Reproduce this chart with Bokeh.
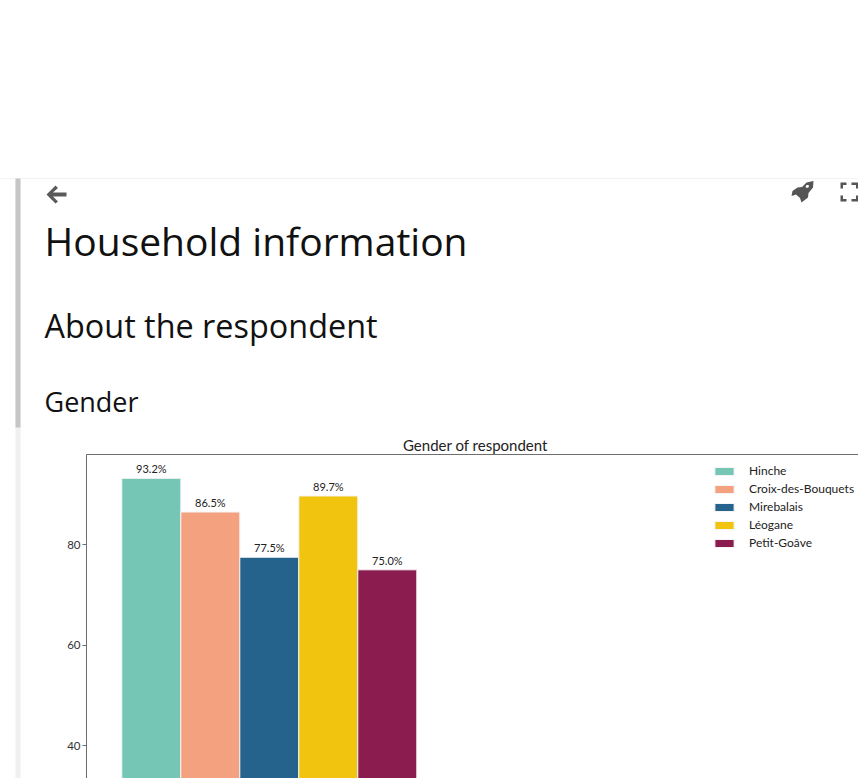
from bokeh.plotting import figure
from bokeh.embed import file_html
from bokeh.resources import INLINE
from bokeh.models import (Range1d, FixedTicker, LinearAxis, Label, BoxAnnotation,
                          PolyAnnotation, Legend, LegendItem, ColumnDataSource)
from bokeh.core.properties import value

towns = ["Hinche", "Croix-des-Bouquets", "Mirebalais", "Léogane", "Petit-Goâve"]
shares = [93.2, 86.5, 77.5, 89.7, 75.0]
colors = ["#76C6B6", "#F4A180", "#25628C", "#F1C40F", "#8A1C4F"]
positions = [0, 1, 2, 3, 4]
y_ticks = [40, 60, 80]
headings = ["Household information", "About the respondent", "Gender"]
chart_title = "Gender of respondent"

W, H = 858, 778
CHART_FONT = "Lato"
HEAD_FONT = "Open Sans"

# scale calibration
PX_PER_BAR = 59.0
X0_PX = 150.8
PX_PER_UNIT = 5.025
Y80_PX = 544.2
AX_LEFT_PX = 86
AX_TOP_PX = 454

def xv(px):
    return (px - X0_PX) / PX_PER_BAR

def yv(py):
    return 80 + (Y80_PX - py) / PX_PER_UNIT

def sy(y):
    return H - y

p = figure(width=W, height=H, output_backend="svg", toolbar_location=None,
           x_range=Range1d(xv(0), xv(W)), y_range=Range1d(yv(H), yv(0)),
           x_axis_location=None, y_axis_location=None, min_border=0, tools="")
p.grid.visible = False
p.outline_line_color = None
p.background_fill_color = "white"
p.border_fill_color = "white"

ax = LinearAxis(fixed_location=xv(AX_LEFT_PX), bounds=(yv(H), yv(AX_TOP_PX)),
                ticker=FixedTicker(ticks=y_ticks))
ax.major_tick_in = 0
ax.major_tick_out = 4
ax.minor_tick_line_color = None
ax.axis_line_color = "#6e6e6e"
ax.major_tick_line_color = "#6e6e6e"
ax.major_label_text_font = CHART_FONT
ax.major_label_text_font_size = "11.5px"
ax.major_label_text_color = "#333333"
ax.major_label_standoff = 2
p.add_layout(ax, "left")

top = LinearAxis(fixed_location=yv(AX_TOP_PX), bounds=(xv(AX_LEFT_PX), xv(W)),
                 ticker=FixedTicker(ticks=[]), axis_line_color="#6e6e6e",
                 major_tick_line_color=None, minor_tick_line_color=None,
                 major_label_text_font_size="0px")
p.add_layout(top, "above")

items = []
for x, v, c, t in zip(positions, shares, colors, towns):
    r = p.vbar(x=[x], top=[v], bottom=0, width=1.0, fill_color=c,
               line_color="#f4f4f4", line_width=1)
    items.append(LegendItem(label=t, renderers=[r]))

src = ColumnDataSource(dict(x=positions, y=shares, t=[f"{v:.1f}%" for v in shares]))
p.text(x="x", y="y", text="t", source=src, text_align="center", text_baseline="bottom",
       y_offset=-3, text_font=value(CHART_FONT), text_font_size="11px", text_color="#222222")

leg = Legend(items=items, location=(712, 227), orientation="vertical", padding=0, margin=0,
             spacing=1, glyph_width=24, glyph_height=10, label_height=17, label_standoff=13,
             label_text_font=CHART_FONT, label_text_font_size="12px", label_text_color="#222222",
             border_line_color=None, background_fill_alpha=0)
p.add_layout(leg)

def box(l, r, t, b, color):
    p.add_layout(BoxAnnotation(left=l, right=r, top=sy(t), bottom=sy(b),
                               left_units="screen", right_units="screen",
                               top_units="screen", bottom_units="screen",
                               fill_color=color, fill_alpha=1, line_color=None, level="underlay"))

def poly(pts, color):
    p.add_layout(PolyAnnotation(xs=[a for a, _ in pts], ys=[sy(b) for _, b in pts],
                                xs_units="screen", ys_units="screen",
                                fill_color=color, fill_alpha=1, line_color=None))

box(0, 858, 177.5, 178.5, "#f3f3f3")
box(15, 20, 178, 778, "#f0f0f0")
box(15, 20, 178, 427, "#c6c6c6")

# back arrow
poly([(46, 194), (55, 185), (57.5, 187.5), (52.5, 192), (66, 192), (66, 196),
      (52.5, 196), (57.5, 201), (55, 203)], "#5a5a5a")
# rocket
poly([(813, 180.5), (812.5, 187), (808, 192.5), (807.5, 197), (801, 202), (799.5, 197.5),
      (795.5, 194), (791, 195.5), (792, 190.5), (797, 187), (801.5, 186.5), (806, 182)], "#555555")
poly([(806, 184.5), (808, 184.5), (808.5, 186.5), (806.5, 187.5), (805, 186.5)], "#ffffff")
# fullscreen corners
G = "#555555"
poly([(840, 182), (846, 182), (846, 184.5), (842.5, 184.5), (842.5, 188), (840, 188)], G)
poly([(851, 182), (858, 182), (858, 188), (855.5, 188), (855.5, 184.5), (851, 184.5)], G)
poly([(840, 195), (842.5, 195), (842.5, 198.5), (846, 198.5), (846, 201), (840, 201)], G)
poly([(855.5, 195), (858, 195), (858, 201), (851, 201), (851, 198.5), (855.5, 198.5)], G)

for text, y, size in zip(headings, [240, 324, 401], ["39px", "32.4px", "27px"]):
    p.add_layout(Label(x=44, y=sy(y), x_units="screen", y_units="screen", text=text,
                       text_font=HEAD_FONT, text_font_size=size, text_color="#111111",
                       text_baseline="alphabetic"))

p.add_layout(Label(x=475, y=sy(444), x_units="screen", y_units="screen", text=chart_title,
                   text_font=CHART_FONT, text_font_size="15px", text_color="#222222",
                   text_align="center", text_baseline="alphabetic"))

open("out.html", "w").write(file_html(p, INLINE))
